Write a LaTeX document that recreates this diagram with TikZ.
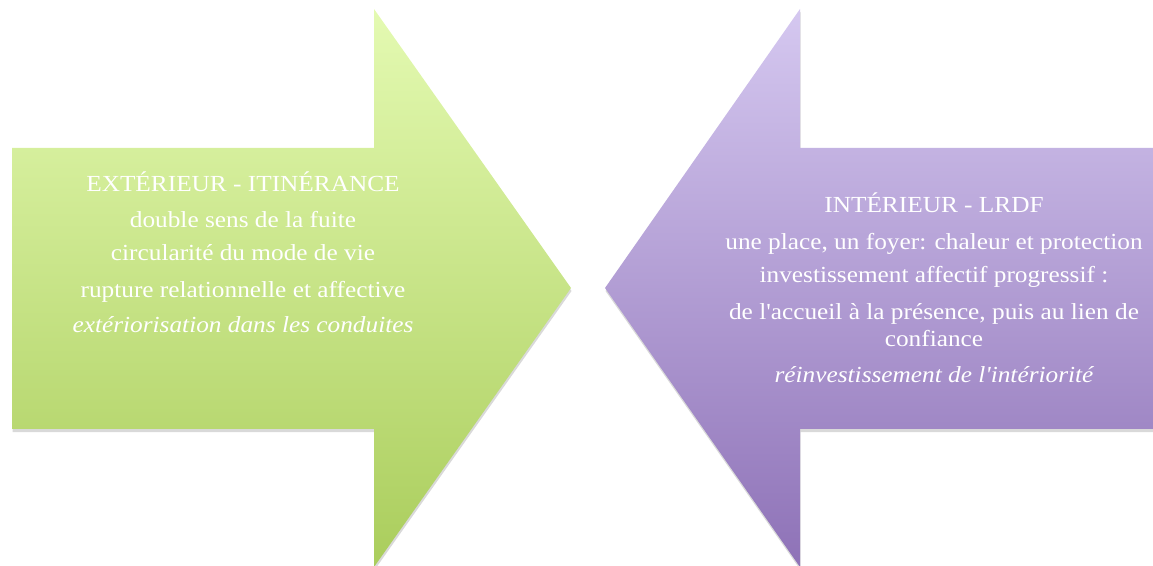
\documentclass[tikz,border=0pt]{standalone}
\usepackage{fontspec}
\setmainfont[FakeStretch=1.1, Ligatures=TeXOff]{Liberation Serif}
\usetikzlibrary{shadows}
\definecolor{gtop}{HTML}{E4FAB2}
\definecolor{gbot}{HTML}{AACD5C}
\definecolor{ptop}{HTML}{D5C8F0}
\definecolor{pbot}{HTML}{8E72B7}
\tikzset{
  arrowshape/.style={draw=none, drop shadow={shadow xshift=0.5pt, shadow yshift=-3pt, opacity=0.25, fill=black!60}},
  greenfill/.style={top color=gtop, bottom color=gbot},
  purplefill/.style={top color=ptop, bottom color=pbot},
  label/.style={align=center, text=white, font=\fontsize{23}{27}\selectfont, inner sep=0pt}
}
\begin{document}
\begin{tikzpicture}[x=1pt,y=1pt]
\useasboundingbox (0,0) rectangle (1153,565);
% left arrow
\path[arrowshape, greenfill] (12,417) -- (374,417) -- (374,556) -- (571,277) -- (374,-2) -- (374,136) -- (12,136) -- cycle;
% right arrow
\path[arrowshape, purplefill] (1160,417) -- (800,417) -- (800,556) -- (605,277) -- (800,-2) -- (800,136) -- (1160,136) -- cycle;
\node[label] (lt) at (243,313) {EXTÉRIEUR - ITINÉRANCE\\[9pt]
double sens de la fuite\\[6pt]
circularité du mode de vie\\[10pt]
rupture relationnelle et affective\\[8pt]
\itshape extériorisation dans les conduites};
\node[label] (rt) at (934,277) {INTÉRIEUR - LRDF\\[10pt]
une place, un foyer: chaleur et protection\\[6pt]
investissement affectif progressif :\\[10pt]
de l'accueil à la présence, puis au lien de\\
confiance\\[9pt]
\itshape réinvestissement de l'intériorité};
\end{tikzpicture}
\end{document}
